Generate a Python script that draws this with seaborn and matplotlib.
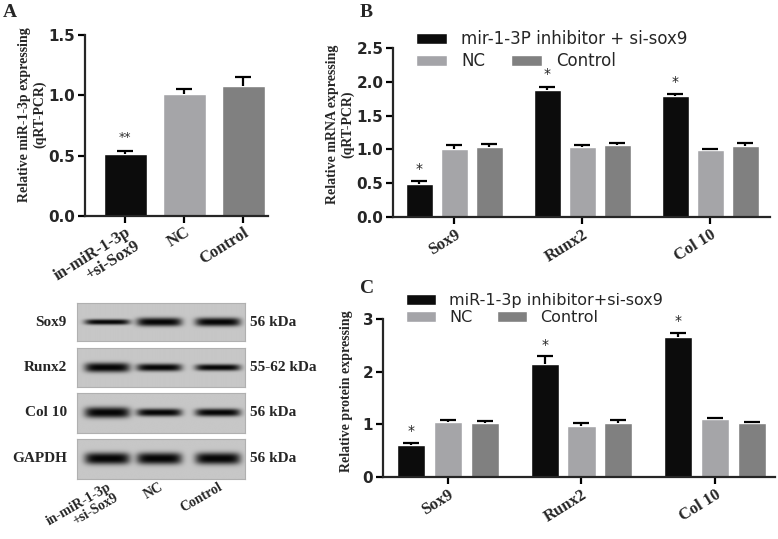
import numpy as np
import pandas as pd
import matplotlib
matplotlib.use("Agg")
import matplotlib.pyplot as plt
from matplotlib.patches import Patch
import seaborn as sns

# ---- data ----
groups = ["in-miR-1-3p\n+si-Sox9", "NC", "Control"]
hue_names = ["inhibitor", "NC", "Control"]
genes = ["Sox9", "Runx2", "Col 10"]

# panel A: miR-1-3p qRT-PCR
a_mean = [0.51, 1.01, 1.08]
a_err = [0.03, 0.04, 0.07]
a_stars = ["**", "", ""]

# panel B: mRNA (rows = hue group, cols = gene)
b_mean = {"inhibitor": [0.49, 1.88, 1.79],
          "NC": [1.01, 1.04, 0.99],
          "Control": [1.03, 1.06, 1.05]}
b_err = {"inhibitor": [0.04, 0.05, 0.03],
         "NC": [0.06, 0.03, 0.02],
         "Control": [0.05, 0.03, 0.045]}

# panel C: protein
c_mean = {"inhibitor": [0.61, 2.14, 2.66],
          "NC": [1.05, 0.96, 1.10],
          "Control": [1.03, 1.02, 1.02]}
c_err = {"inhibitor": [0.04, 0.15, 0.07],
         "NC": [0.03, 0.07, 0.025],
         "Control": [0.03, 0.07, 0.03]}

# western blot: band thickness (px) per lane
blot_rows = ["Sox9", "Runx2", "Col 10", "GAPDH"]
blot_kda = ["56 kDa", "55-62 kDa", "56 kDa", "56 kDa"]
blot_band = [[4, 7, 7], [8, 6, 5], [9, 6, 6], [10, 10, 10]]

colors = {"inhibitor": "#0c0c0c", "NC": "#a4a4a8", "Control": "#808080"}

SERIF = "Liberation Serif"
SANS = "DejaVu Sans"

sns.set_style("ticks")
plt.rcParams["font.family"] = [SANS]
plt.rcParams["axes.linewidth"] = 1.6

W, H = 778, 539
fig = plt.figure(figsize=(W / 100, H / 100), dpi=100)


def px_axes(left, right, top, bottom):
    return fig.add_axes([left / W, 1 - bottom / H, (right - left) / W, (bottom - top) / H])


def style_axes(ax, yticks, ylim):
    sns.despine(ax=ax)
    ax.set_ylim(*ylim)
    ax.set_yticks(yticks)
    ax.tick_params(axis="both", length=5, width=1.6, direction="out", pad=2, color="black")
    for t in ax.get_yticklabels():
        t.set_fontfamily(SANS)
        t.set_fontweight("bold")
        t.set_fontsize(11)
    ax.set_xlabel("")


def add_err(ax, xs, tops, errs):
    for x, t, e in zip(xs, tops, errs):
        eb = ax.errorbar(x, t, yerr=[[0], [e]], fmt="none", ecolor="black",
                         elinewidth=1.6, capsize=6, capthick=1.6, zorder=3)
        eb[1][0].set_visible(False)


# ---------------- panel A ----------------
axA = px_axes(85, 268, 35, 216)
dfA = pd.DataFrame({"group": groups, "value": a_mean})
sns.barplot(data=dfA, x="group", y="value", hue="group",
            palette=[colors[h] for h in hue_names], width=0.73,
            errorbar=None, legend=False, ax=axA)
add_err(axA, range(3), a_mean, a_err)
for i, s in enumerate(a_stars):
    if s:
        axA.text(i, a_mean[i] + a_err[i] + 0.06, s, ha="center", va="bottom",
                 fontsize=9, color="#333333")
axA.set_xlim(-0.68, 2.42)
style_axes(axA, [0, 0.5, 1.0, 1.5], (0, 1.5))
axA.set_yticklabels(["0.0", "0.5", "1.0", "1.5"], fontfamily=SANS, fontweight="bold", fontsize=11)
axA.set_xticks(range(3))
axA.set_xticklabels(groups, rotation=32, ha="right", rotation_mode="anchor",
                    fontfamily=SERIF, fontweight="bold", fontsize=12, linespacing=1.0)
axA.tick_params(axis="x", pad=1)
axA.set_ylabel("Relative miR-1-3p expressing\n(qRT-PCR)", fontfamily=SERIF,
               fontweight="bold", fontsize=10, linespacing=1.15)
axA.yaxis.set_label_coords(-0.213, 0.56)


def grouped_panel(ax, means, errs, width, gap):
    rows = []
    for h in hue_names:
        for g, v in zip(genes, means[h]):
            rows.append({"gene": g, "group": h, "value": v})
    df = pd.DataFrame(rows)
    sns.barplot(data=df, x="gene", y="value", hue="group", hue_order=hue_names,
                palette=colors, width=width, gap=gap, errorbar=None,
                legend=False, ax=ax)
    for cont, h in zip(ax.containers, hue_names):
        xs = [p.get_x() + p.get_width() / 2 for p in cont.patches]
        add_err(ax, xs, means[h], errs[h])
        if h == "inhibitor":
            span = ax.get_ylim()[1]
            for x, m, e in zip(xs, means[h], errs[h]):
                ax.text(x, m + e + 0.03 * span, "*", ha="center", va="bottom",
                        fontsize=10, color="#222222")
    ax.set_xticks(range(3))
    ax.set_xticklabels(genes, rotation=32, ha="right", rotation_mode="anchor",
                       fontfamily=SERIF, fontweight="bold", fontsize=12)


def two_row_legend(ax, top1, top2, left, label1, size):
    kw = dict(loc="upper left", bbox_transform=fig.transFigure, frameon=False,
              borderpad=0, borderaxespad=0, handlelength=1.85, handleheight=0.65,
              handletextpad=0.85, prop={"family": SANS, "size": size})
    h1 = [Patch(facecolor=colors["inhibitor"])]
    leg1 = ax.legend(h1, [label1], bbox_to_anchor=(left / W, 1 - top1 / H), **kw)
    ax.add_artist(leg1)
    h2 = [Patch(facecolor=colors["NC"]), Patch(facecolor=colors["Control"])]
    ax.legend(h2, ["NC", "Control"], ncol=2, columnspacing=1.55,
              bbox_to_anchor=(left / W, 1 - top2 / H), **kw)


# ---------------- panel B ----------------
axB = px_axes(393, 770, 48, 217)
axB.set_ylim(0, 2.5)
grouped_panel(axB, b_mean, b_err, 0.82, 0.24)
axB.set_xlim(-0.48, 2.465)
style_axes(axB, [0, 0.5, 1.0, 1.5, 2.0, 2.5], (0, 2.5))
axB.set_yticklabels(["0.0", "0.5", "1.0", "1.5", "2.0", "2.5"], fontfamily=SANS,
                    fontweight="bold", fontsize=11)
axB.set_ylabel("Relative mRNA expressing\n(qRT-PCR)", fontfamily=SERIF,
               fontweight="bold", fontsize=10, linespacing=1.15)
axB.yaxis.set_label_coords(-0.103, 0.55)
two_row_legend(axB, 30, 52, 416, "mir-1-3P inhibitor + si-sox9", 12)

# ---------------- panel C ----------------
axC = px_axes(383, 775, 319, 477)
axC.set_ylim(0, 3)
grouped_panel(axC, c_mean, c_err, 0.825, 0.23)
axC.set_xlim(-0.487, 2.45)
style_axes(axC, [0, 1, 2, 3], (0, 3))
axC.set_ylabel("Relative protein expressing", fontfamily=SERIF,
               fontweight="bold", fontsize=10)
axC.yaxis.set_label_coords(-0.077, 0.54)
two_row_legend(axC, 293, 310, 406, "miR-1-3p inhibitor+si-sox9", 11.5)

# ---------------- western blot ----------------
row_px = [(303, 341), (348, 387), (393, 433), (439, 479)]
lanes = [0.18, 0.49, 0.84]
xx = np.linspace(0, 1, 340)
for i, (name, kda, bands) in enumerate(zip(blot_rows, blot_kda, blot_band)):
    top, bot = row_px[i]
    ax = px_axes(77, 245, top, bot)
    hpx = bot - top
    yy = np.linspace(0, hpx, hpx * 4)
    img = np.full((len(yy), len(xx)), 0.78)
    for cx, th in zip(lanes, bands):
        hx = np.exp(-np.abs((xx - cx) / 0.135) ** 6)
        hy = np.exp(-np.abs((yy - hpx / 2) / (th / 2 + 0.8)) ** 2.5)
        img -= 0.76 * np.outer(hy, hx)
    ax.imshow(np.clip(img, 0, 1), cmap="gray", vmin=0, vmax=1, aspect="auto",
              extent=(0, 1, 0, 1), interpolation="bilinear")
    for sp in ax.spines.values():
        sp.set_color("#b0b0b0")
        sp.set_linewidth(0.8)
    ax.set_yticks([])
    ax.set_xticks([])
    ax.text(-0.06, 0.5, name, transform=ax.transAxes, ha="right", va="center",
            fontfamily=SERIF, fontweight="bold", fontsize=11)
    ax.text(1.03, 0.5, kda, transform=ax.transAxes, ha="left", va="center",
            fontfamily=SERIF, fontweight="bold", fontsize=11)
    if i == len(blot_rows) - 1:
        ax.set_xticks(lanes)
        ax.set_xticklabels(groups, rotation=30, ha="right", rotation_mode="anchor",
                           fontfamily=SERIF, fontweight="bold", fontsize=10, linespacing=1.0)
        ax.tick_params(axis="x", length=0, pad=1)

# panel letters
for lab, x, y in [("A", 3, 4), ("B", 360, 4), ("C", 360, 280)]:
    fig.text(x / W, 1 - y / H, lab, ha="left", va="top", fontfamily=SERIF,
             fontweight="bold", fontsize=14)

fig.savefig("out.png", dpi=100)
